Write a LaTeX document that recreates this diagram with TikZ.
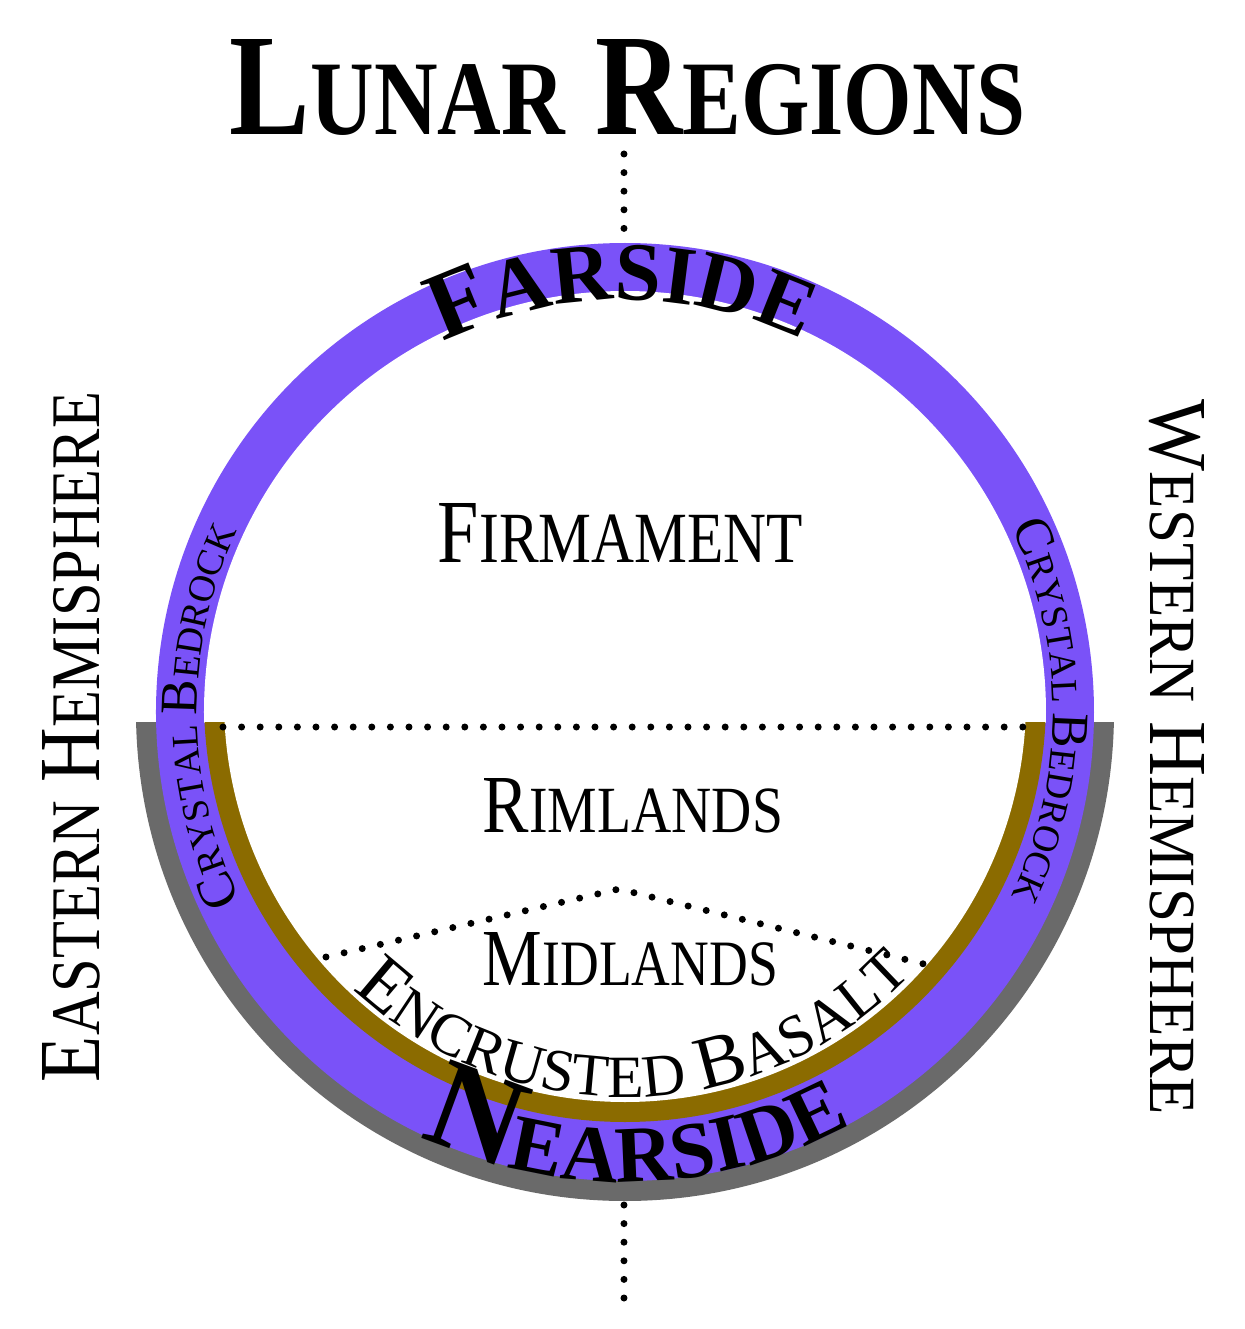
\documentclass[tikz,border=0pt]{standalone}
\usepackage{fontspec}
\setmainfont{Liberation Serif}
\usepackage{graphicx}
\usetikzlibrary{decorations.text,calc}
\definecolor{ringpurple}{HTML}{7A52F8}
\definecolor{ringgold}{HTML}{8B6B00}
\definecolor{ringgray}{HTML}{6A6A6A}
\newcommand{\fsz}[1]{\fontsize{#1}{#1}\selectfont}
\newcommand{\bigsm}[2]{{\fsz{10pt}#1}{\fsz{8pt}#2}}
\newcommand{\bigsmt}[2]{{\fsz{10pt}#1}{\fsz{7.3pt}#2}}
\tikzset{
  dotline/.style={line width=3.5pt, line cap=round, dash pattern=on 0pt off 9.3pt},
  plainlabel/.style={inner sep=0pt, outer sep=0pt, anchor=base},
  arctext/.style={decorate, decoration={text along path, text align=center, text={#1}}}
}
\begin{document}
\begin{tikzpicture}[x=0.5pt,y=0.5pt]
\useasboundingbox (-625,-617) rectangle (619,712);
\fill[white] (-625,-617) rectangle (619,712);
% gray half ring
\begin{scope}
  \clip (-700,-10) rectangle (700,-700);
  \fill[ringgray] (0,0) circle[radius=489];
\end{scope}
% purple ring
\fill[ringpurple] (0,0) circle[radius=469];
\begin{scope}
  \clip (-700,-10) rectangle (700,700);
  \fill[white] (0,0) circle[radius=421];
\end{scope}
% gold lower ring
\begin{scope}
  \clip (-700,-10) rectangle (700,-700);
  \fill[ringgold] (0,11) circle[radius=421];
  \fill[white] (0,11) circle[radius=401];
\end{scope}
% dotted lines
\coordinate (t1) at (-1,558);
\coordinate (t2) at (-1,482);
\coordinate (b1) at (-1,-493);
\coordinate (b2) at (-1,-588);
\coordinate (h1) at (-402,-15);
\coordinate (h2) at (405,-15);
\coordinate (r1) at (-299,-245);
\coordinate (r2) at (-6,-177);
\coordinate (r3) at (303,-253);
\coordinate (gc) at (0,11);
\draw[dotline] (t1) -- (t2);
\draw[dotline] (b1) -- (b2);
\draw[dotline] (h1) -- (h2);
\draw[dotline] (r1) -- (r2) -- (r3);
% straight labels
\node[plainlabel] (title) at (2.5,577) {\resizebox{397.5pt}{47.5pt}{\bfseries\bigsmt{L}{UNAR} \bigsmt{R}{EGIONS}}};
\node[plainlabel] (firm) at (-4.5,150) {\resizebox{182.5pt}{29.5pt}{\bigsm{F}{IRMAMENT}}};
\node[plainlabel] (rim) at (8,-120) {\resizebox{150pt}{27pt}{\bigsm{R}{IMLANDS}}};
\node[plainlabel] (mid) at (5.5,-273) {\resizebox{147.5pt}{26.5pt}{\bigsm{M}{IDLANDS}}};
\node[plainlabel, rotate=90] (east) at (-525,-25) {\resizebox{345pt}{28.5pt}{\bigsm{E}{ASTERN} \bigsm{H}{EMISPHERE}}};
\node[plainlabel, rotate=-90] (west) at (525,-45.5) {\resizebox{357.5pt}{27pt}{\bigsm{W}{ESTERN} \bigsm{H}{EMISPHERE}}};
% curved labels
\path[arctext={|\fsz{48pt}\bfseries|F|\fsz{41.5pt}\bfseries|ARSIDE}]
  (150.4:412) arc[start angle=150.4, end angle=30.4, radius=412];
\path[arctext={|\fsz{64pt}\bfseries|N|\fsz{40pt}\bfseries|EARSIDE}]
  (201.5:470) arc[start angle=201.5, end angle=341.5, radius=470];
\path[arctext={|\fsz{37.5pt}|E|\fsz{30pt}|NCRUSTED |\fsz{37.5pt}|B|\fsz{30pt}|ASALT}]
  ($(gc)+(200:396)$) arc[start angle=200, end angle=343, radius=396];
\path[arctext={|\fsz{26.4pt}|C|\fsz{18.9pt}|RYSTAL |\fsz{26.4pt}|B|\fsz{18.9pt}|EDROCK}]
  (230.5:428) arc[start angle=230.5, end angle=130.5, radius=428];
\path[arctext={|\fsz{26.4pt}|C|\fsz{18.9pt}|RYSTAL |\fsz{26.4pt}|B|\fsz{18.9pt}|EDROCK}]
  (50:428) arc[start angle=50, end angle=-50, radius=428];
\end{tikzpicture}
\end{document}
